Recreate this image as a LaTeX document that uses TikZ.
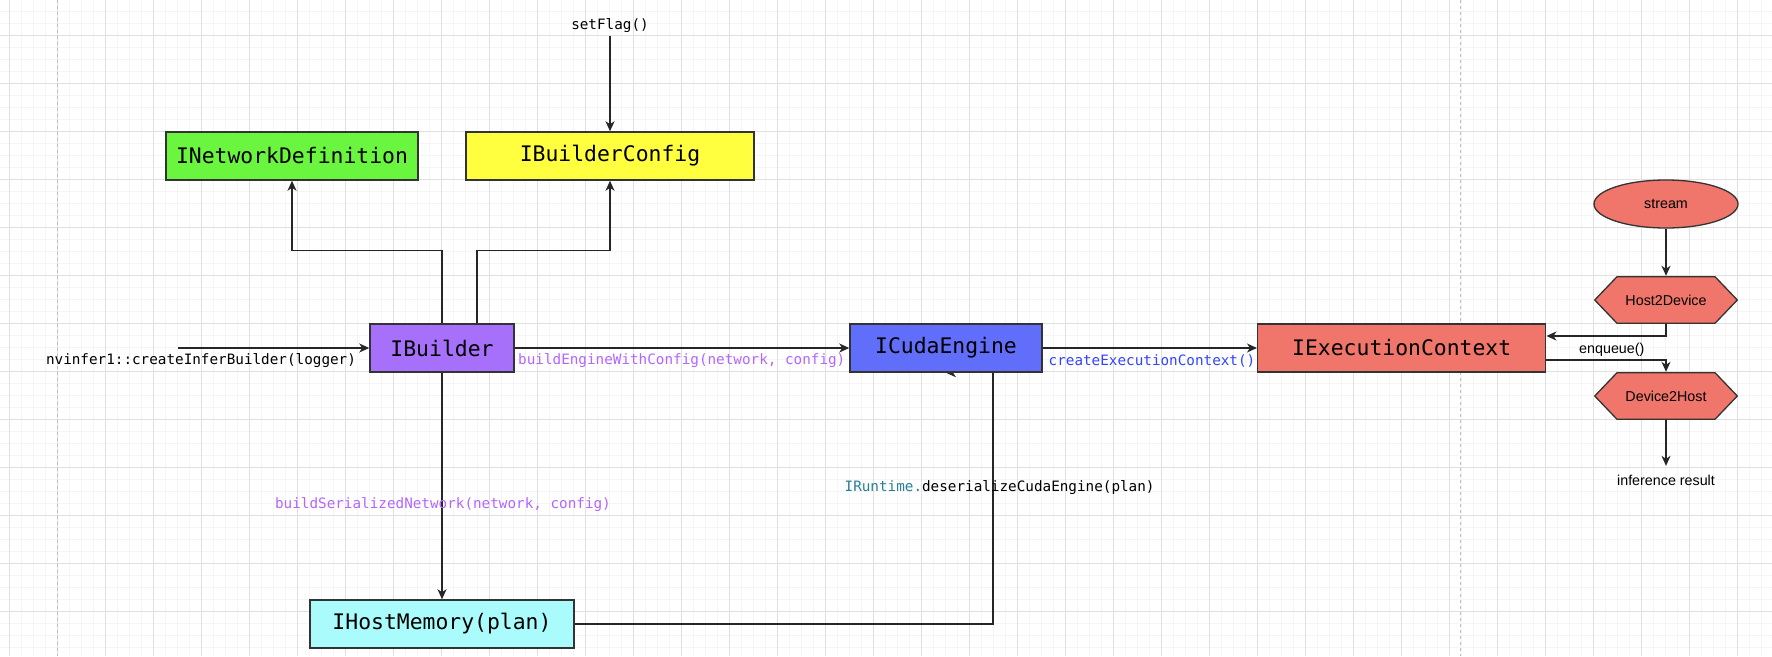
\documentclass[tikz,border=0pt]{standalone}
\usepackage{fontspec}
\setmonofont{DejaVu Sans Mono}
\setsansfont{Liberation Sans}
\usetikzlibrary{arrows.meta,shapes.geometric}

\definecolor{netgreen}{RGB}{106,245,62}
\definecolor{cfgyellow}{RGB}{255,255,64}
\definecolor{bldpurple}{RGB}{166,112,250}
\definecolor{engblue}{RGB}{96,110,250}
\definecolor{ctxsalmon}{RGB}{240,117,106}
\definecolor{memcyan}{RGB}{170,252,252}
\definecolor{callpurple}{RGB}{178,102,255}
\definecolor{callblue}{RGB}{51,68,255}
\definecolor{typeteal}{RGB}{38,127,153}
\definecolor{linegray}{RGB}{51,51,51}
\definecolor{gridminor}{RGB}{245,245,245}
\definecolor{gridmajor}{RGB}{224,224,224}
\definecolor{pagedash}{RGB}{190,190,190}

\pgfdeclarelayer{grid}
\pgfdeclarelayer{edges}
\pgfsetlayers{grid,edges,main}

\tikzset{
  cls/.style={rectangle, draw=linegray, line width=1.5pt, minimum height=48pt, inner sep=0pt,
    font=\ttfamily\fontsize{21.4}{25}\selectfont},
  calltext/.style={inner sep=3pt, font=\ttfamily\fontsize{14.3}{17}\selectfont},
  notetext/.style={inner sep=0pt, font=\sffamily\fontsize{14.3}{17}\selectfont},
  conn/.style={draw=black!85, line width=1.3pt, -{Stealth[length=10pt,width=9pt,inset=3pt]}},
  hexbox/.style={minimum width=144pt, minimum height=48pt, inner sep=0pt,
    font=\sffamily\fontsize{14.3}{17}\selectfont,
    path picture={
      \filldraw[fill=ctxsalmon, draw=linegray, line width=1.3pt]
        ([xshift=0.7pt]path picture bounding box.west)
        -- ([xshift=23pt,yshift=-0.7pt]path picture bounding box.north west)
        -- ([xshift=-23pt,yshift=-0.7pt]path picture bounding box.north east)
        -- ([xshift=-0.7pt]path picture bounding box.east)
        -- ([xshift=-23pt,yshift=0.7pt]path picture bounding box.south east)
        -- ([xshift=23pt,yshift=0.7pt]path picture bounding box.south west)
        -- cycle;
    }},
}

\begin{document}
\begin{tikzpicture}[x=1pt, y=-1pt]

    \useasboundingbox (0,0) rectangle (1772,656);

    % background grid and page borders
    \begin{pgfonlayer}{grid}
    \fill[white] (0,0) rectangle (1772,656);
    \foreach \i in {0,...,147} \draw[gridminor, line width=1pt] ({9.3+12*\i},0) -- ++(0,656);
    \foreach \j in {1,...,54} \draw[gridminor, line width=1pt] (0,{-1+12*\j}) -- ++(1772,0);
    \foreach \i in {0,...,36} \draw[gridmajor, line width=1pt] ({9.3+48*\i},0) -- ++(0,656);
    \foreach \j in {0,...,12} \draw[gridmajor, line width=1pt] (0,{35+48*\j}) -- ++(1772,0);
    \draw[pagedash, line width=1pt, dash pattern=on 3pt off 3pt] (57.3,0) -- ++(0,656);
    \draw[pagedash, line width=1pt, dash pattern=on 3pt off 3pt] (1460,0) -- ++(0,656);
    \end{pgfonlayer}

    % classes
    \node[cls, fill=netgreen, minimum width=252pt] (netdef) at (292,156) {INetworkDefinition};
    \node[cls, fill=cfgyellow, minimum width=288pt] (bldcfg) at (610,156) {IBuilderConfig};
    \node[cls, fill=bldpurple, minimum width=144pt] (bld) at (442,348) {IBuilder};
    \node[cls, fill=engblue, minimum width=192pt] (engine) at (946,348) {ICudaEngine};
    \node[cls, fill=ctxsalmon, minimum width=288pt] (ctx) at (1401.7,348) {IExecutionContext};
    \node[cls, fill=memcyan, minimum width=264pt] (plan) at (442,624) {IHostMemory(plan)};

    % inference side
    \node[ellipse, draw=linegray, fill=ctxsalmon, line width=1.3pt, minimum width=144pt,
          minimum height=48pt, notetext] (stream) at (1666,204) {stream};
    \node[hexbox] (h2d) at (1666,300) {Host2Device};
    \node[hexbox] (d2h) at (1666,396) {Device2Host};
    \node[notetext] (result) at (1666,480.8) {inference result};

    % calls
    \coordinate (start) at (178,348);
    \node[calltext] (flag) at (610,26) {setFlag()};
    \node[calltext] (create) at (201,361) {nvinfer1::createInferBuilder(logger)};
    \node[calltext, text=callpurple] (buildeng) at (681.8,361) {buildEngineWithConfig(network, config)};
    \node[calltext, text=callblue] (mkctx) at (1152,361) {createExecutionContext()};
    \node[calltext, text=callpurple] (buildser) at (443,505) {buildSerializedNetwork(network, config)};
    \node[calltext] (deser) at (999.6,488) {\textcolor{typeteal}{IRuntime.}deserializeCudaEngine(plan)};
    \node[notetext] (enq) at (1611.8,350) {enqueue()};

    \begin{pgfonlayer}{edges}
    \draw[conn] (start) -- (bld);
    \draw[conn] (bld.north) -- ++(0,-73) -| (netdef.south);
    \draw[conn] ([xshift=35pt]bld.north) -- ++(0,-73) -| (bldcfg.south);
    \draw[conn] (flag) -- (bldcfg);
    \draw[conn] (bld) -- (engine);
    \draw[conn] (engine) -- (ctx);
    \draw[conn] (bld) -- (plan);
    \draw[conn] (plan) -| ([xshift=47pt]engine.south) -- (engine.south);
    \draw[conn] (stream) -- (h2d);
    \draw[conn] (h2d) |- ([yshift=12pt]ctx.east);
    \draw[conn] ([yshift=-12pt]ctx.east) -| (d2h);
    \draw[conn] (d2h) -- ([yshift=9.5pt]result.north);
    \end{pgfonlayer}

\end{tikzpicture}
\end{document}
